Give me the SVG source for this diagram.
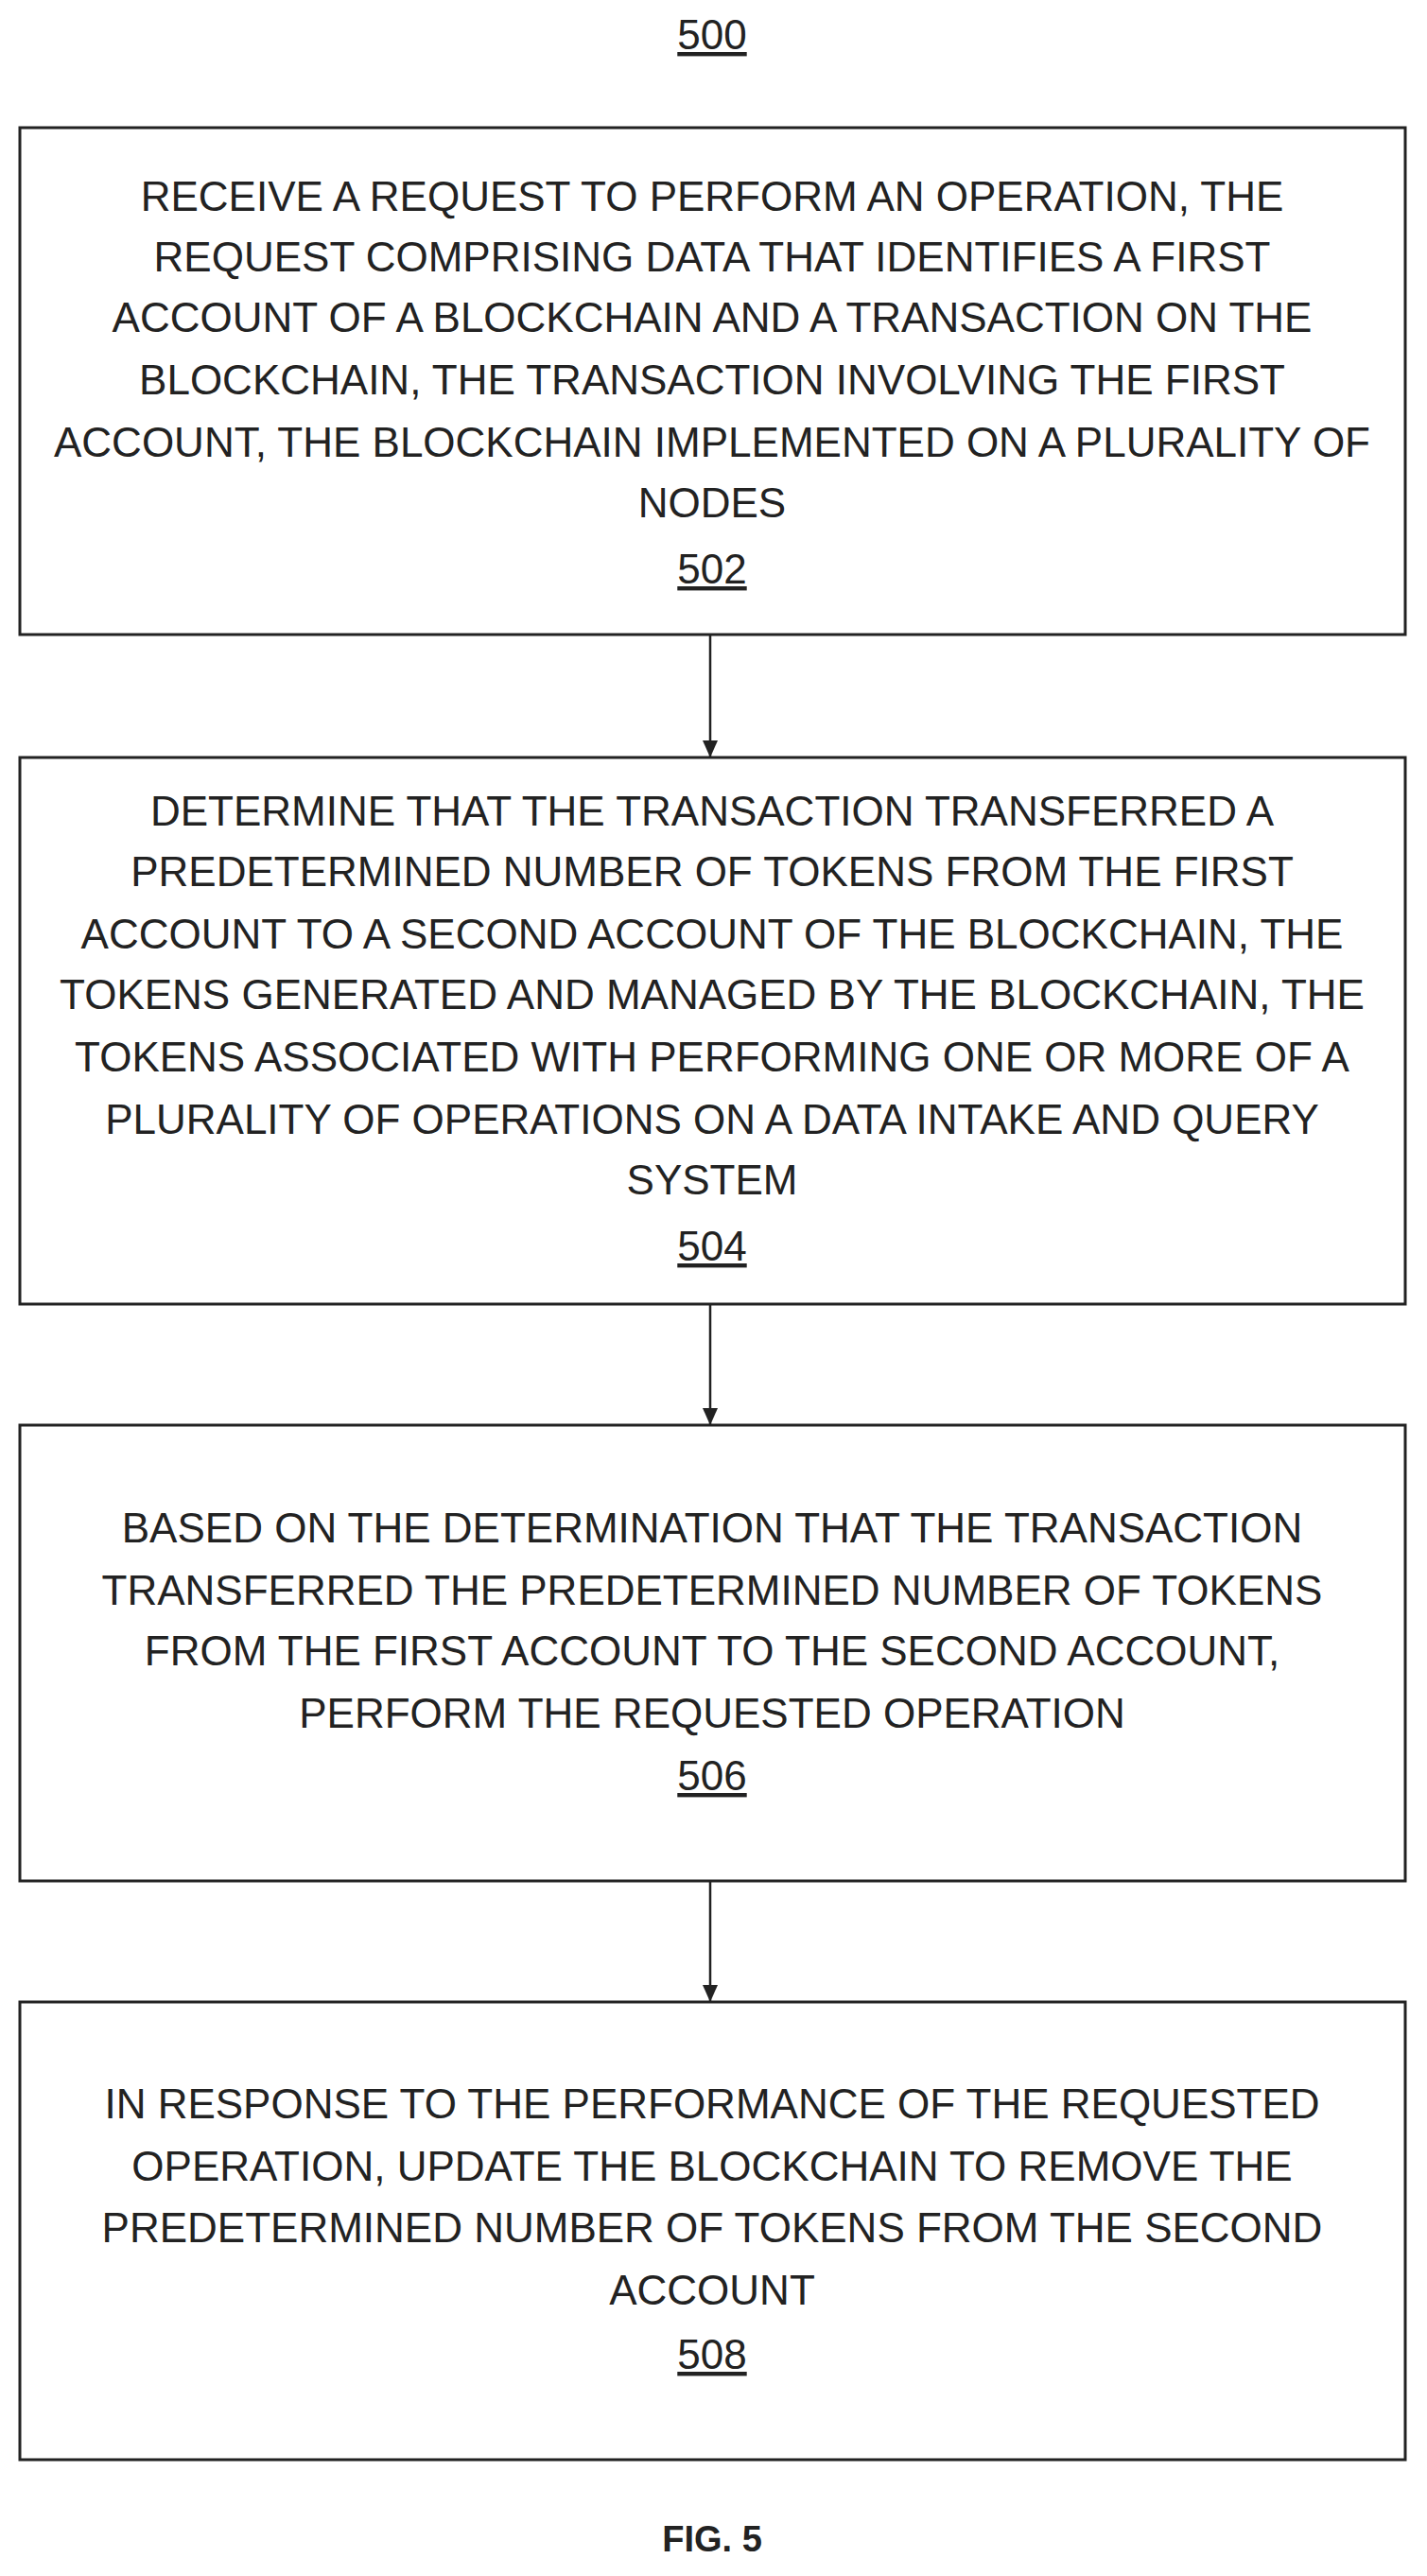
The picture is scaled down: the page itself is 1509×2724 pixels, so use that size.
<svg xmlns="http://www.w3.org/2000/svg" width="1509" height="2724" viewBox="0 0 1509 2724">
<style>
.box{fill:#fff;stroke:#222;stroke-width:3}
text{font-family:"Liberation Sans",Arial,sans-serif;font-size:44px;fill:#222;text-anchor:middle}
.ref{text-decoration:underline}
.con{stroke:#222;stroke-width:2.5;fill:none;marker-end:url(#ah)}
</style>
<defs><marker id="ah" markerWidth="18" markerHeight="20" refX="17" refY="10" orient="auto" markerUnits="userSpaceOnUse"><path d="M0,2 L18,10 L0,18 Z" fill="#222"/></marker></defs>
<rect width="1509" height="2724" fill="#fff"/>
<text x="753" y="52" class="ref">500</text>
<g id="n502"><rect class="box" x="21" y="135" width="1465" height="536"/>
<text x="753" y="223">RECEIVE A REQUEST TO PERFORM AN OPERATION, THE</text>
<text x="753" y="287">REQUEST COMPRISING DATA THAT IDENTIFIES A FIRST</text>
<text x="753" y="351">ACCOUNT OF A BLOCKCHAIN AND A TRANSACTION ON THE</text>
<text x="753" y="417">BLOCKCHAIN, THE TRANSACTION INVOLVING THE FIRST</text>
<text x="753" y="483">ACCOUNT, THE BLOCKCHAIN IMPLEMENTED ON A PLURALITY OF</text>
<text x="753" y="547">NODES</text>
<text x="753" y="617" class="ref">502</text></g>
<g id="n504"><rect class="box" x="21" y="801" width="1465" height="578"/>
<text x="753" y="873">DETERMINE THAT THE TRANSACTION TRANSFERRED A</text>
<text x="753" y="937">PREDETERMINED NUMBER OF TOKENS FROM THE FIRST</text>
<text x="753" y="1003">ACCOUNT TO A SECOND ACCOUNT OF THE BLOCKCHAIN, THE</text>
<text x="753" y="1067">TOKENS GENERATED AND MANAGED BY THE BLOCKCHAIN, THE</text>
<text x="753" y="1133">TOKENS ASSOCIATED WITH PERFORMING ONE OR MORE OF A</text>
<text x="753" y="1199">PLURALITY OF OPERATIONS ON A DATA INTAKE AND QUERY</text>
<text x="753" y="1263">SYSTEM</text>
<text x="753" y="1333" class="ref">504</text></g>
<g id="n506"><rect class="box" x="21" y="1507" width="1465" height="482"/>
<text x="753" y="1631">BASED ON THE DETERMINATION THAT THE TRANSACTION</text>
<text x="753" y="1697">TRANSFERRED THE PREDETERMINED NUMBER OF TOKENS</text>
<text x="753" y="1761">FROM THE FIRST ACCOUNT TO THE SECOND ACCOUNT,</text>
<text x="753" y="1827">PERFORM THE REQUESTED OPERATION</text>
<text x="753" y="1893" class="ref">506</text></g>
<g id="n508"><rect class="box" x="21" y="2117" width="1465" height="484"/>
<text x="753" y="2240">IN RESPONSE TO THE PERFORMANCE OF THE REQUESTED</text>
<text x="753" y="2306">OPERATION, UPDATE THE BLOCKCHAIN TO REMOVE THE</text>
<text x="753" y="2371">PREDETERMINED NUMBER OF TOKENS FROM THE SECOND</text>
<text x="753" y="2437">ACCOUNT</text>
<text x="753" y="2505" class="ref">508</text></g>
<g id="connectors">
<line class="con" x1="751" y1="671" x2="751" y2="800"/>
<line class="con" x1="751" y1="1379" x2="751" y2="1506"/>
<line class="con" x1="751" y1="1989" x2="751" y2="2116"/>
</g>
<text x="753" y="2698" style="font-weight:bold;font-size:38px">FIG. 5</text>
</svg>
